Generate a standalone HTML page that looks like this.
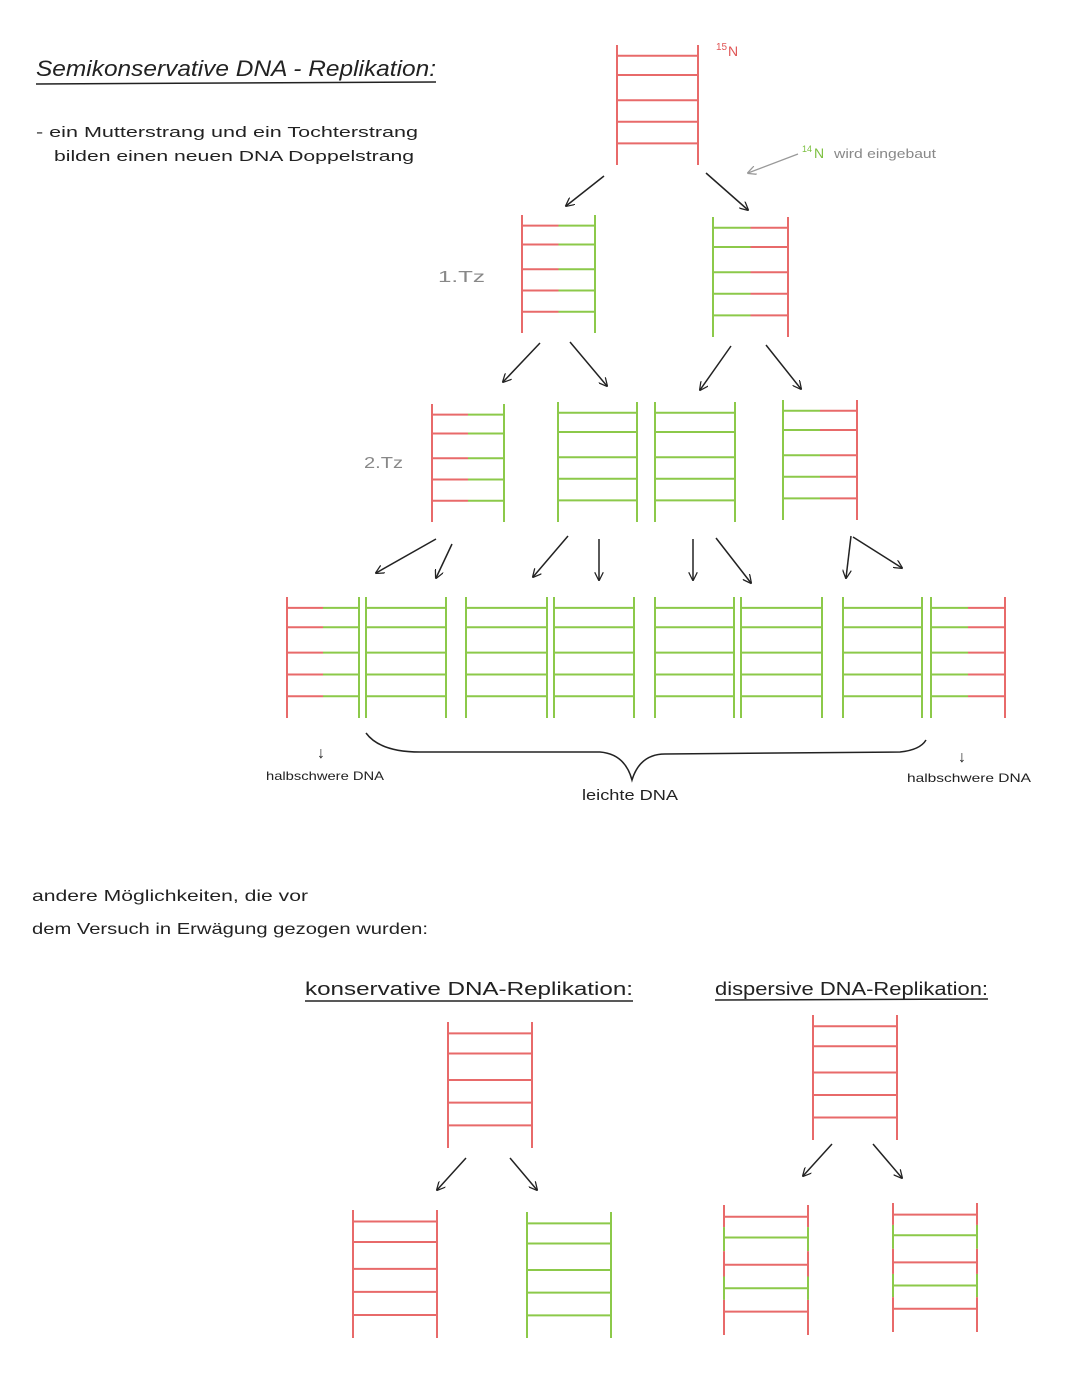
<!DOCTYPE html>
<html><head><meta charset="utf-8"><style>
body{margin:0;background:#fff;}
svg{display:block}
text{font-family:"Liberation Sans",sans-serif;}
</style></head><body>
<svg id="s" width="1080" height="1394" viewBox="0 0 1080 1394" xmlns="http://www.w3.org/2000/svg">
<defs><marker id="a" viewBox="0 0 10 10" refX="9" refY="5" markerWidth="9" markerHeight="9" orient="auto" markerUnits="userSpaceOnUse"><path d="M0,0 L10,5 L0,10" fill="none" stroke="#222" stroke-width="1.4"/></marker>
<marker id="g" viewBox="0 0 10 10" refX="9" refY="5" markerWidth="9" markerHeight="9" orient="auto" markerUnits="userSpaceOnUse"><path d="M0,0 L10,5 L0,10" fill="none" stroke="#999" stroke-width="1.4"/></marker></defs>
<text x="36" y="76" font-size="22" fill="#222" font-style="italic" textLength="400" lengthAdjust="spacingAndGlyphs">Semikonservative DNA - Replikation:</text>
<line x1="36" y1="84" x2="436" y2="82" stroke="#222" stroke-width="1.5"/>
<text x="36" y="137" font-size="15" fill="#222" textLength="382" lengthAdjust="spacingAndGlyphs">- ein Mutterstrang und ein Tochterstrang</text>
<text x="54" y="161" font-size="15" fill="#222" textLength="360" lengthAdjust="spacingAndGlyphs">bilden einen neuen DNA Doppelstrang</text>
<text x="716" y="50" font-size="10" fill="#e05555">15</text><text x="728" y="56" font-size="14" fill="#e05555">N</text>
<text x="802" y="152" font-size="9" fill="#7cc040">14</text><text x="814" y="158" font-size="14" fill="#7cc040">N</text>
<text x="834" y="158" font-size="13" fill="#888" textLength="102" lengthAdjust="spacingAndGlyphs">wird eingebaut</text>
<line x1="798" y1="154" x2="748" y2="173" stroke="#999" stroke-width="1.3" marker-end="url(#g)"/>
<text x="438" y="282" font-size="16" fill="#888" textLength="47" lengthAdjust="spacingAndGlyphs">1.Tz</text>
<text x="364" y="468" font-size="16" fill="#888" textLength="39" lengthAdjust="spacingAndGlyphs">2.Tz</text>
<text x="266" y="780" font-size="12" fill="#222" textLength="118" lengthAdjust="spacingAndGlyphs">halbschwere DNA</text>
<text x="907" y="782" font-size="12" fill="#222" textLength="124" lengthAdjust="spacingAndGlyphs">halbschwere DNA</text>
<text x="582" y="800" font-size="15" fill="#222" textLength="96" lengthAdjust="spacingAndGlyphs">leichte DNA</text>
<text x="317" y="758" font-size="16" fill="#222">↓</text>
<text x="958" y="762" font-size="16" fill="#222">↓</text>
<path d="M366,733 Q380,752 420,752 L600,752 Q625,754 632,780 Q640,754 665,754 L900,752 Q920,750 926,740" fill="none" stroke="#222" stroke-width="1.5"/>
<text x="32" y="901" font-size="16" fill="#222" textLength="276" lengthAdjust="spacingAndGlyphs">andere Möglichkeiten, die vor</text>
<text x="32" y="934" font-size="16" fill="#222" textLength="396" lengthAdjust="spacingAndGlyphs">dem Versuch in Erwägung gezogen wurden:</text>
<text x="305" y="995" font-size="18" fill="#222" textLength="328" lengthAdjust="spacingAndGlyphs">konservative DNA-Replikation:</text>
<line x1="305" y1="1001" x2="633" y2="1001" stroke="#222" stroke-width="1.5"/>
<text x="715" y="995" font-size="18" fill="#222" textLength="273" lengthAdjust="spacingAndGlyphs">dispersive DNA-Replikation:</text>
<line x1="715" y1="1000" x2="988" y2="999" stroke="#222" stroke-width="1.5"/>
<g stroke="#222" stroke-width="1.5" marker-end="url(#a)">
<line x1="604" y1="176" x2="566" y2="206"/><line x1="706" y1="173" x2="748" y2="210"/>
<line x1="540" y1="343" x2="503" y2="382"/><line x1="570" y1="342" x2="607" y2="386"/>
<line x1="731" y1="346" x2="700" y2="390"/><line x1="766" y1="345" x2="801" y2="389"/>
<line x1="436" y1="539" x2="376" y2="573"/><line x1="452" y1="544" x2="436" y2="578"/>
<line x1="568" y1="536" x2="533" y2="577"/><line x1="599" y1="539" x2="599" y2="580"/>
<line x1="693" y1="539" x2="693" y2="580"/><line x1="716" y1="538" x2="751" y2="583"/>
<line x1="851" y1="536" x2="846" y2="578"/><line x1="853" y1="537" x2="902" y2="568"/>
<line x1="466" y1="1158" x2="437" y2="1190"/><line x1="510" y1="1158" x2="537" y2="1190"/>
<line x1="832" y1="1144" x2="803" y2="1176"/><line x1="873" y1="1144" x2="902" y2="1178"/>
</g>
<g id="L" stroke-width="2" fill="none"></g>
</svg>
<script>
var R="#e86a6a",G="#8cc94a",g=document.getElementById("L");
function ln(x1,y1,x2,y2,c){var l=document.createElementNS("http://www.w3.org/2000/svg","line");l.setAttribute("x1",x1);l.setAttribute("y1",y1);l.setAttribute("x2",x2);l.setAttribute("y2",y2);l.setAttribute("stroke",c);g.appendChild(l);}
function lad(x1,x2,t,b,rs,cl,cr){ln(x1,t,x1,b,cl);ln(x2,t,x2,b,cr);var m=(x1+x2)/2;rs.forEach(function(y){ln(x1,y,m,y,cl);ln(m,y,x2,y,cr);});}
function r5(t,b){var h=b-t;return [t+h*.09,t+h*.25,t+h*.46,t+h*.64,t+h*.82];}
lad(617,698,45,165,r5(45,165),R,R);
lad(522,595,215,333,r5(215,333),R,G);
lad(713,788,217,337,r5(217,337),G,R);
lad(432,504,404,522,r5(404,522),R,G);
lad(558,637,402,522,r5(402,522),G,G);
lad(655,735,402,522,r5(402,522),G,G);
lad(783,857,400,520,r5(400,520),G,R);
var xs=[[287,359,R,G],[366,446,G,G],[466,547,G,G],[554,634,G,G],[655,734,G,G],[741,822,G,G],[843,922,G,G],[931,1005,G,R]];
xs.forEach(function(a){lad(a[0],a[1],597,718,r5(597,718),a[2],a[3]);});
lad(448,532,1022,1148,r5(1022,1148),R,R);
lad(353,437,1210,1338,r5(1210,1338),R,R);
lad(527,611,1212,1338,r5(1212,1338),G,G);
lad(813,897,1015,1140,r5(1015,1140),R,R);
function disp(x1,x2,t,b){var rs=r5(t,b);var cs=[R,G,R,G,R];var ys=[t].concat(rs.slice(0,4).map(function(y,i){return (y+rs[i+1])/2;})).concat([b]);
for(var i=0;i<5;i++){ln(x1,ys[i],x1,ys[i+1],cs[i]);ln(x2,ys[i],x2,ys[i+1],cs[i]);ln(x1,rs[i],x2,rs[i],cs[i]);}}
disp(724,808,1205,1335);disp(893,977,1203,1332);
</script>
</body></html>
